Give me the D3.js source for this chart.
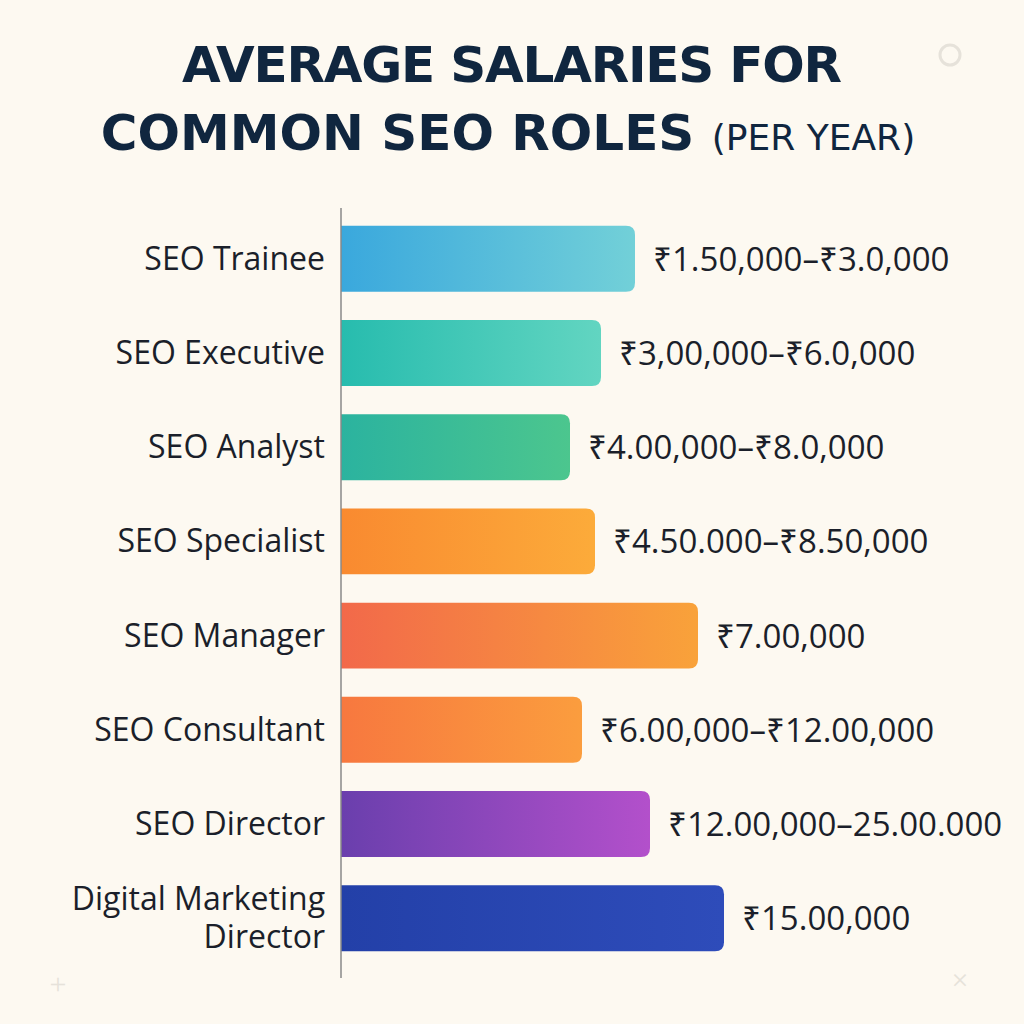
<!DOCTYPE html>
<html><head><meta charset="utf-8">
<script src="https://d3js.org/d3.v7.min.js"></script>
<style>body{margin:0;background:#fdf9f1}</style></head>
<body><svg id="c" width="1024" height="1024"></svg>
<script>
const categories = [["SEO Trainee"],["SEO Executive"],["SEO Analyst"],["SEO Specialist"],["SEO Manager"],["SEO Consultant"],["SEO Director"],["Digital Marketing","Director"]];
const barValues = [294, 260, 229, 254, 357, 241, 309, 383];
const valueLabels = ["₹1.50,000–₹3.0,000","₹3,00,000–₹6.0,000","₹4.00,000–₹8.0,000","₹4.50.000–₹8.50,000","₹7.00,000","₹6.00,000–₹12.00,000","₹12.00,000–25.00.000","₹15.00,000"];
const colorsStart = ["#3aa8dd","#27bcae","#2bb39f","#f98a30","#f2694a","#f7783f","#6a3fad","#2340a8"];
const colorsEnd = ["#72d0d8","#62d5c1","#4cc68e","#fcab3a","#f9a23a","#fb9d3e","#b350cb","#2e4cba"];

const svg = d3.select("#c");
svg.append("rect").attr("width",1024).attr("height",1024).attr("fill","#fdf9f1");
const defs = svg.append("defs");
categories.forEach((c,i)=>{
  const g = defs.append("linearGradient").attr("id","g"+i);
  g.append("stop").attr("offset","0%").attr("stop-color",colorsStart[i]);
  g.append("stop").attr("offset","100%").attr("stop-color",colorsEnd[i]);
});
svg.append("text").attr("x",512).attr("y",82).attr("text-anchor","middle")
  .attr("font-family","DejaVu Sans").attr("font-weight","bold").attr("font-size",50).attr("fill","#10263f")
  .attr("textLength",660).text("AVERAGE SALARIES FOR");
const t2 = svg.append("text").attr("x",508).attr("y",150).attr("text-anchor","middle")
  .attr("font-family","DejaVu Sans").attr("font-weight","bold").attr("fill","#10263f");
t2.append("tspan").attr("font-size",50).text("COMMON SEO ROLES ");
t2.append("tspan").attr("font-size",36).attr("font-weight","normal").text("(PER YEAR)");

const x0 = 341;
const x = d3.scaleLinear().domain([0,400]).range([x0, x0+400]);
const y = d3.scaleBand().domain(d3.range(categories.length)).range([207, 970]).paddingInner(0.3).paddingOuter(0.2);
const r = 9;
categories.forEach((c,i)=>{
  const w = x(barValues[i]) - x0, h = y.bandwidth(), yy = y(i);
  svg.append("path").attr("fill",`url(#g${i})`)
    .attr("d",`M${x0},${yy}H${x0+w-r}Q${x0+w},${yy} ${x0+w},${yy+r}V${yy+h-r}Q${x0+w},${yy+h} ${x0+w-r},${yy+h}H${x0}Z`);
  const cy = yy + h/2;
  const lt = svg.append("text").attr("x",325).attr("text-anchor","end")
    .attr("font-family","Open Sans").attr("font-size",32).attr("fill","#1b1f2a");
  if (c.length===1) lt.append("tspan").attr("x",325).attr("y",cy+11).text(c[0]);
  else { lt.append("tspan").attr("x",325).attr("y",cy-8).text(c[0]); lt.append("tspan").attr("x",325).attr("y",cy+30).text(c[1]); }
  svg.append("text").attr("x",x0+w+18).attr("y",cy+12)
    .attr("font-family","Open Sans").attr("font-size",33).attr("fill","#1b1f2a").text(valueLabels[i]);
});
svg.append("line").attr("x1",x0).attr("x2",x0).attr("y1",208).attr("y2",978).attr("stroke","#888").attr("stroke-width",1.5);
svg.append("circle").attr("cx",950).attr("cy",55).attr("r",10).attr("fill","none").attr("stroke","#e6e2da").attr("stroke-width",3);
svg.append("text").attr("x",58).attr("y",994).attr("text-anchor","middle").attr("font-size",30).attr("fill","#e6e2da").text("+");
svg.append("text").attr("x",960).attr("y",990).attr("text-anchor","middle").attr("font-size",30).attr("fill","#e6e2da").text("×");
</script></body></html>
